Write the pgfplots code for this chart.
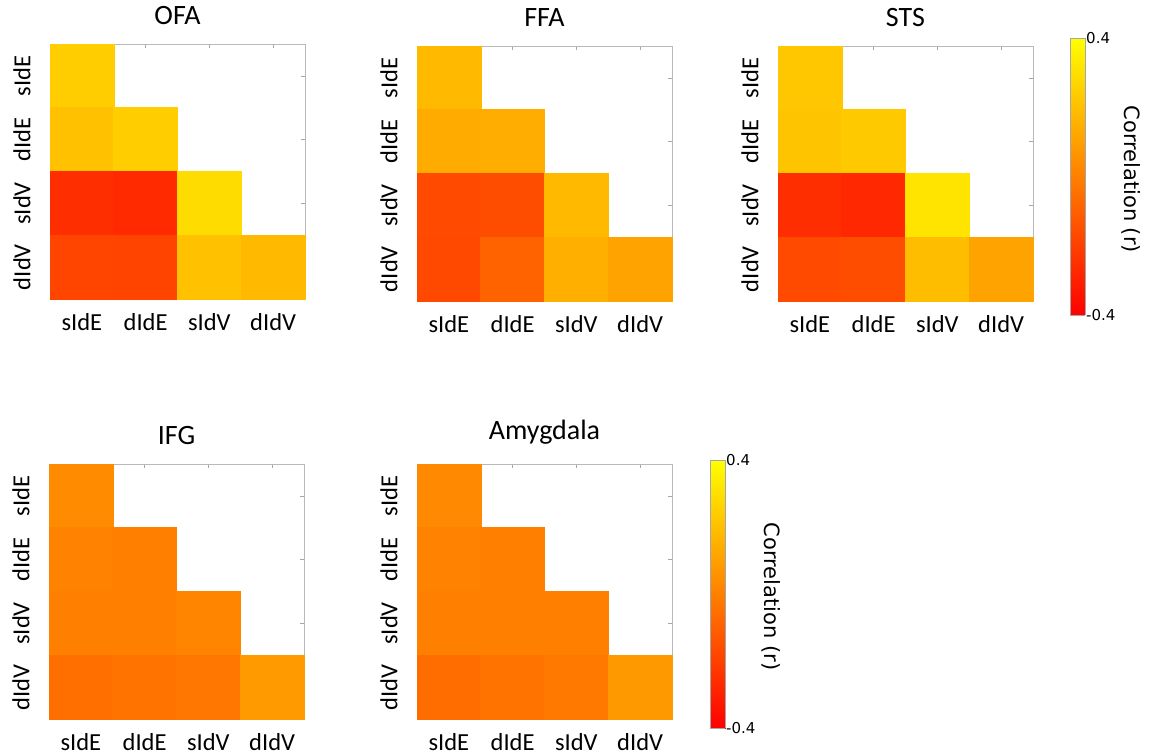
\documentclass[border=0pt]{standalone}
\usepackage{fontspec}
\setmainfont{Carlito}
\newfontfamily\dejavu{DejaVu Sans}
\usepackage{pgfplots}
\pgfplotsset{compat=1.18}

\pgfplotstableread{
x y c
1 1 0.24
1 2 0.20
2 2 0.24
1 3 -0.256
2 3 -0.27
3 3 0.284
1 4 -0.184
2 4 -0.187
3 4 0.20
4 4 0.178
}\tabofa
\pgfplotstableread{
x y c
1 1 0.178
1 2 0.133
2 2 0.14
1 3 -0.168
2 3 -0.16
3 3 0.18
1 4 -0.174
2 4 -0.093
3 4 0.146
4 4 0.108
}\tabffa
\pgfplotstableread{
x y c
1 1 0.22
1 2 0.21
2 2 0.227
1 3 -0.256
2 3 -0.275
3 3 0.31
1 4 -0.168
2 4 -0.16
3 4 0.19
4 4 0.108
}\tabsts
\pgfplotstableread{
x y c
1 1 0.033
1 2 0.008
2 2 -0.005
1 3 0.0
2 3 -0.005
3 3 0.014
1 4 -0.055
2 4 -0.042
3 4 -0.03
4 4 0.083
}\tabifg
\pgfplotstableread{
x y c
1 1 0.027
1 2 0.008
2 2 -0.005
1 3 -0.005
2 3 -0.005
3 3 0.0
1 4 -0.06
2 4 -0.042
3 4 -0.024
4 4 0.077
}\tabamy

\pgfplotsset{
  hm/.style={scale only axis, width=255pt, height=255pt, anchor=north west,
    xmin=0.5, xmax=4.5, ymin=0.5, ymax=4.5, y dir=reverse,
    xtick={1,2,3,4}, ytick={1,2,3,4},
    xticklabels={sIdE,dIdE,sIdV,dIdV}, yticklabels={sIdE,dIdE,sIdV,dIdV},
    tick label style={font=\fontsize{24.5}{28}\selectfont, text=black},
    xticklabel style={inner sep=1pt},
    xticklabel shift=13pt,
    yticklabel style={rotate=90, anchor=south},
    yticklabel shift=16pt,
    tick align=inside, major tick length=4pt,
    tick style={color=gray!70, line width=0.5pt},
    axis line style={color=gray!55, line width=0.6pt},
    axis on top,
    colormap={autumn}{rgb255=(255,0,0) rgb255=(255,255,0)},
    point meta min=-0.4, point meta max=0.4,
    title style={font=\fontsize{28}{32}\selectfont, anchor=south, at={(0.5,1)}, inner sep=0pt, yshift=13pt},
  },
  cells/.style={scatter, only marks, mark=square*, mark size=32pt, scatter src=explicit,
    scatter/use mapped color={draw=mapped color, fill=mapped color}},
  cbar/.style={scale only axis, width=15pt, anchor=north west,
    view={0}{90},
    xmin=0, xmax=1, ymin=-0.4, ymax=0.4,
    xtick=\empty, ytick={-0.4,0.4}, yticklabels={-0.4,0.4},
    yticklabel pos=right, major tick length=0pt,
    yticklabel style={font=\dejavu\fontsize{15}{17}\selectfont, inner sep=1pt},
    axis line style={color=gray!70, line width=0.6pt},
    axis on top,
    colormap={autumn}{rgb255=(255,0,0) rgb255=(255,255,0)},
    point meta min=-0.4, point meta max=0.4,
    ylabel={Correlation (r)},
    ylabel style={font=\dejavu\fontsize{21}{24}\selectfont, at={(axis description cs:4.1,0.49)}, anchor=center, rotate=180},
  },
}

\begin{document}
\begin{tikzpicture}
\useasboundingbox (0,0) rectangle (1155pt,755pt);

\begin{axis}[hm, at={(50pt,711pt)}, title={OFA}]
\addplot[cells] table[x=x, y=y, meta=c] {\tabofa};
\end{axis}

\begin{axis}[hm, at={(417pt,709pt)}, title={FFA}]
\addplot[cells] table[x=x, y=y, meta=c] {\tabffa};
\end{axis}

\begin{axis}[hm, at={(778pt,709pt)}, title={STS}]
\addplot[cells] table[x=x, y=y, meta=c] {\tabsts};
\end{axis}

\begin{axis}[hm, at={(49pt,291pt)}, title={IFG}]
\addplot[cells] table[x=x, y=y, meta=c] {\tabifg};
\end{axis}

\begin{axis}[hm, at={(417pt,291pt)}, title={Amygdala}]
\addplot[cells] table[x=x, y=y, meta=c] {\tabamy};
\end{axis}

\begin{axis}[cbar, at={(1070pt,717pt)}, height=277pt]
\addplot3[surf, shader=interp, point meta=y] coordinates {
(0,-0.4,0) (1,-0.4,0)

(0,0.4,0) (1,0.4,0)
};
\end{axis}

\begin{axis}[cbar, at={(710pt,295pt)}, height=268pt]
\addplot3[surf, shader=interp, point meta=y] coordinates {
(0,-0.4,0) (1,-0.4,0)

(0,0.4,0) (1,0.4,0)
};
\end{axis}
\end{tikzpicture}
\end{document}
